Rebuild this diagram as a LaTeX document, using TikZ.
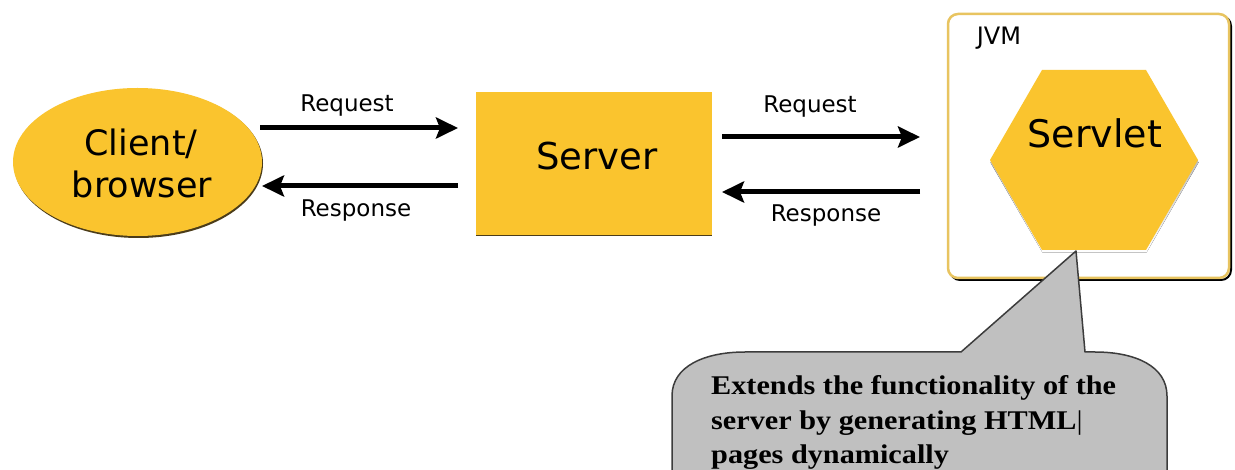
\documentclass[tikz,border=0pt]{standalone}
\usepackage{fontspec}
\setmainfont{DejaVu Sans}
\newfontfamily\callfont[FakeStretch=1.12]{Liberation Serif}
\usetikzlibrary{arrows.meta,shapes.geometric}
\definecolor{sunny}{RGB}{250,196,46}
\definecolor{shade}{RGB}{75,60,25}
\definecolor{bubble}{RGB}{192,192,192}
\definecolor{bubbleline}{RGB}{60,60,60}
\definecolor{gold}{RGB}{232,196,96}
\begin{document}
\begin{tikzpicture}[x=1pt,y=-1pt,
  flow/.style={line width=5pt,-{Stealth[length=22pt,width=21pt,inset=4pt]}},
  lbl/.style={font=\fontsize{23}{27}\selectfont, anchor=base, inner sep=0pt},
  big/.style={font=\fontsize{35}{43}\selectfont, anchor=base, inner sep=0pt},
  yellowbox/.style={fill=sunny, inner sep=0pt},
  shadowbox/.style={fill=shade, inner sep=0pt},
]
\useasboundingbox (0,0) rectangle (1235,470);
\fill[white] (0,0) rectangle (1235,470);

% client ellipse
\node (clientshadow) [ellipse, shadowbox, minimum width=249pt, minimum height=149pt] at (138.5,163.5) {};
\node (client) [ellipse, yellowbox, minimum width=249pt, minimum height=148pt] at (137.5,162) {};
\node (clientA) [big] at (141,156) {Client/};
\node (clientB) [big] at (142,198) {browser};

% server box
\node (servershadow) [shadowbox, minimum width=236pt, minimum height=144pt] at (594,164.5) {};
\node (server) [yellowbox, minimum width=236pt, minimum height=143pt] at (594,163.5) {};
\node (servertxt) [big, font=\fontsize{37}{43}\selectfont] at (597,170) {Server};

% JVM container
\draw[shade, line width=2pt, rounded corners=10pt] (950,16) rectangle (1231,280);
\draw[gold, fill=white, line width=2.5pt, rounded corners=10pt] (948,14) rectangle (1229,278);
\node (jvm) [lbl, font=\fontsize{24}{28}\selectfont] at (999,45) {JVM};

% servlet hexagon
\fill[shade] (990.5,162.5) -- (1042.5,72.5) -- (1146.5,72.5) -- (1198.5,162.5) -- (1146.5,252.5) -- (1042.5,252.5) -- cycle;
\fill[sunny] (990,160) -- (1042,70) -- (1146,70) -- (1198,160) -- (1146,250) -- (1042,250) -- cycle;
\node (servlet) [big, font=\fontsize{38}{43}\selectfont] at (1095,148) {Servlet};
\coordinate (tip) at (1076,251);

% arrows
\coordinate (r1s) at (260,128); \coordinate (r1e) at (458,128);
\coordinate (s1s) at (458,186); \coordinate (s1e) at (262,186);
\coordinate (r2s) at (722,137); \coordinate (r2e) at (920,137);
\coordinate (s2s) at (920,192); \coordinate (s2e) at (722,192);
\draw[flow] (r1s) -- (r1e);
\draw[flow] (s1s) -- (s1e);
\draw[flow] (r2s) -- (r2e);
\draw[flow] (s2s) -- (s2e);
\node (req1) [lbl] at (347,112) {Request};
\node (res1) [lbl] at (356,217) {Response};
\node (req2) [lbl] at (810,113) {Request};
\node (res2) [lbl] at (826,222) {Response};

% callout
\draw[bubbleline, fill=bubble, line width=1.5pt, line join=round]
  (672,485) -- (672,396) .. controls (672,366) and (705,352) .. (745,352)
  -- (961,352) -- (tip) -- (1085,352) -- (1095,352)
  .. controls (1135,352) and (1167,366) .. (1167,396) -- (1167,485) -- cycle;
\node (note) [anchor=north west, inner sep=0pt, align=left,
  font=\callfont\bfseries\fontsize{27}{34.5}\selectfont] at (711,375.5)
  {Extends the functionality of the\\server by generating HTML{\mdseries|}\\pages dynamically};
\end{tikzpicture}
\end{document}
